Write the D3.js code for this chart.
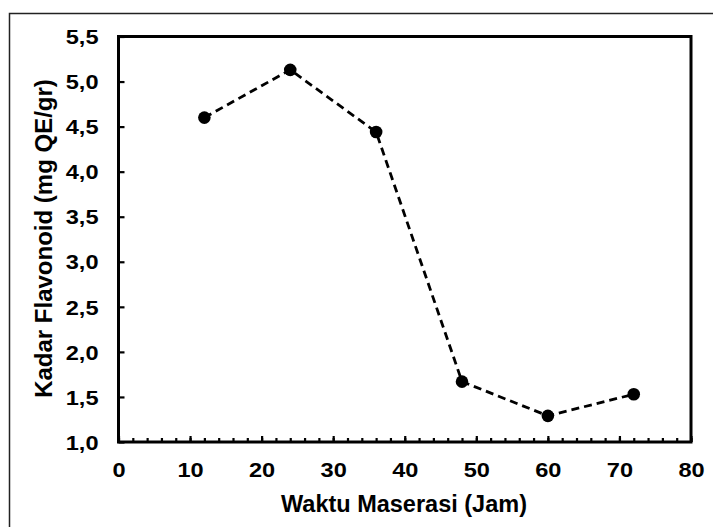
<!DOCTYPE html>
<html>
<head>
<meta charset="utf-8">
<script src="https://cdn.jsdelivr.net/npm/d3@7/dist/d3.min.js"></script>
<style>
html,body{margin:0;padding:0;background:#fff;}
svg{display:block;}
text{font-family:"Liberation Sans",Arial,sans-serif;font-weight:bold;fill:#000;}
</style>
</head>
<body>
<svg id="chart" width="713" height="527"></svg>
<script>
const hours = [12, 24, 36, 48, 60, 72];
const flavonoid = [4.60, 5.13, 4.44, 1.67, 1.29, 1.53];
const xTicks = [0, 10, 20, 30, 40, 50, 60, 70, 80];
const yTicks = [1.0, 1.5, 2.0, 2.5, 3.0, 3.5, 4.0, 4.5, 5.0, 5.5];
const xTitle = "Waktu Maserasi (Jam)";
const yTitle = "Kadar Flavonoid (mg QE/gr)";

const svg = d3.select("#chart");
const L = 118.5, R = 691, T = 36.5, B = 442;
const x = d3.scaleLinear().domain([0, 80]).range([L, R]);
const y = d3.scaleLinear().domain([1.0, 5.5]).range([B, T]);
const fmt = d => d3.format(".1f")(d).replace(".", ",");

// outer border (left and top only visible)
svg.append("path").attr("d", "M9.5,527 V13.5 H713").attr("fill", "none")
  .attr("stroke", "#222").attr("stroke-width", 1.5);

// x minor ticks
const xMinor = d3.range(0, 81, 2);
const gx = svg.append("g").attr("transform", `translate(0,${B})`);
gx.call(d3.axisBottom(x).tickValues(xMinor).tickSizeInner(-4).tickSizeOuter(0).tickFormat(""));
gx.selectAll(".tick line").attr("stroke", "#000").attr("stroke-width", 2.2);
gx.select(".domain").remove();
const gx2 = svg.append("g").attr("transform", `translate(0,${B})`);
gx2.call(d3.axisBottom(x).tickValues(xTicks).tickSizeInner(-6).tickSizeOuter(0).tickPadding(28).tickFormat(d3.format("d")));
gx2.selectAll(".tick line").attr("stroke", "#000").attr("stroke-width", 2.2);
gx2.select(".domain").remove();
gx2.selectAll(".tick text").attr("font-size", 20.5).attr("font-family", null).attr("dy", "0.35em")
  .attr("transform", "scale(1.15,1)");

// y ticks
const gy = svg.append("g").attr("transform", `translate(${L},0)`);
gy.call(d3.axisLeft(y).tickValues(yTicks).tickSizeInner(-6).tickSizeOuter(0).tickPadding(20).tickFormat(fmt));
gy.selectAll(".tick line").attr("stroke", "#000").attr("stroke-width", 2.2);
gy.select(".domain").remove();
gy.selectAll(".tick text").attr("font-size", 20.5).attr("font-family", null).attr("dy", "0.35em")
  .attr("x", 0).attr("transform", "translate(-20,0) scale(1.15,1)");

// plot frame
svg.append("rect").attr("x", L).attr("y", T).attr("width", R - L).attr("height", B - T)
  .attr("fill", "none").attr("stroke", "#000").attr("stroke-width", 3);

// line
const line = d3.line().x((d, i) => x(hours[i])).y(d => y(d));
svg.append("path").datum(flavonoid).attr("d", line).attr("fill", "none")
  .attr("stroke", "#000").attr("stroke-width", 2.8).attr("stroke-dasharray", "8,5");

svg.selectAll("circle.pt").data(flavonoid).join("circle").attr("class", "pt")
  .attr("cx", (d, i) => x(hours[i])).attr("cy", d => y(d)).attr("r", 6.3).attr("fill", "#000");

// titles
svg.append("text").attr("x", 404).attr("y", 512).attr("text-anchor", "middle")
  .attr("font-size", 23.5).text(xTitle);
svg.append("text").attr("transform", "translate(52,238.5) rotate(-90)").attr("text-anchor", "middle")
  .attr("font-size", 24).text(yTitle);
</script>
</body>
</html>
